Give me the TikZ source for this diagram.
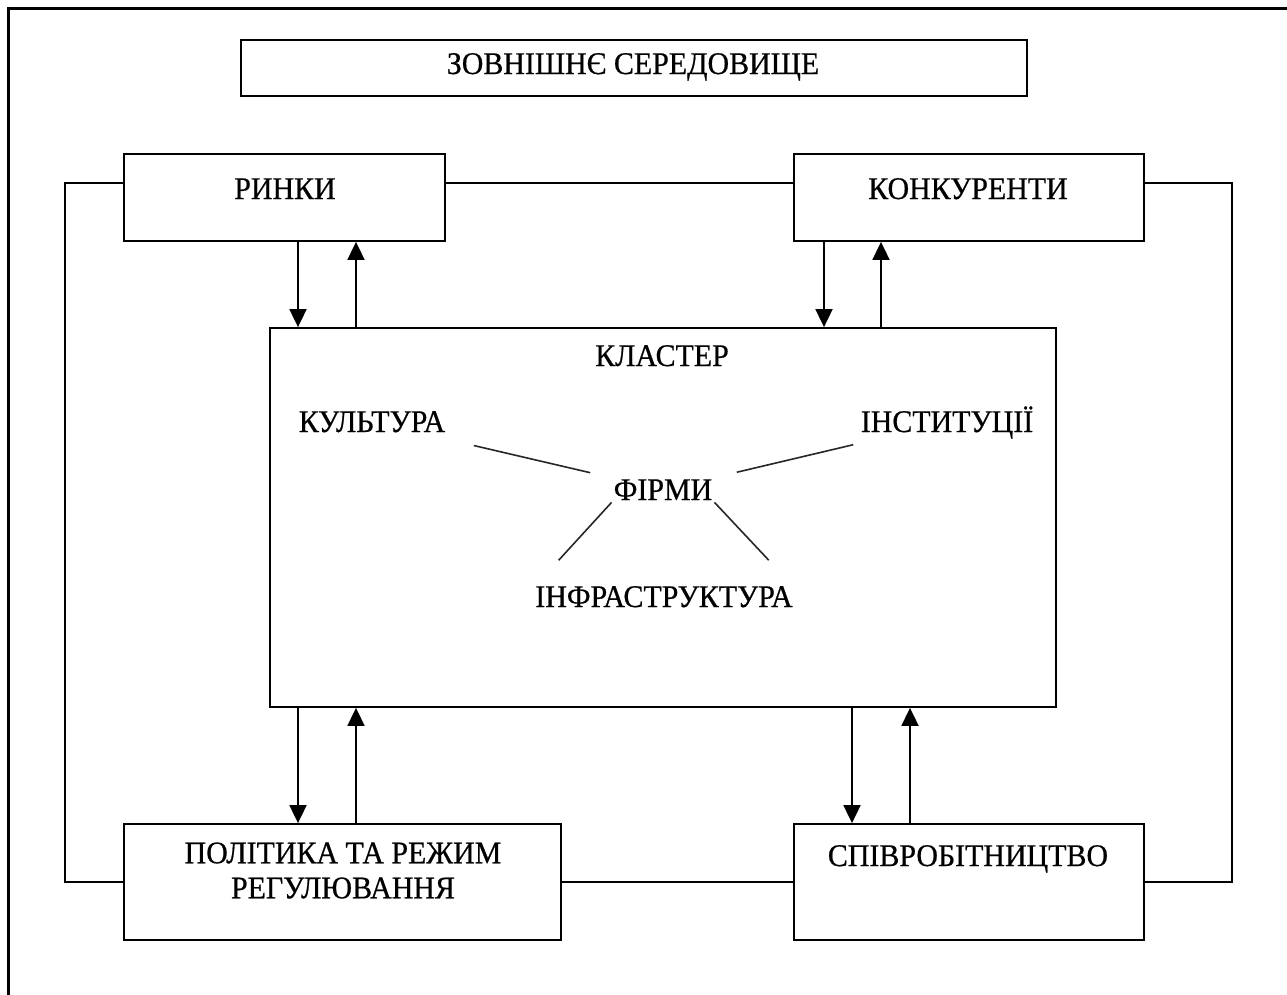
\documentclass[tikz,border=0pt]{standalone}
\usepackage{fontspec}
\setmainfont{Liberation Serif}[FakeStretch=0.95,FakeBold=0.6]
\usetikzlibrary{arrows.meta,calc}

\begin{document}
\begin{tikzpicture}[x=1pt,y=-1pt,
        box/.style={draw,line width=1.8pt,inner sep=0pt},
        txt/.style={inner sep=0pt,font=\fontsize{31.5}{35}\selectfont},
        arr/.style={line width=1.8pt,-{Triangle[width=17pt,length=18pt]}},
        link/.style={line width=1.6pt,black!85}]
    \useasboundingbox (0,0) rectangle (1287,994);
    \clip (0,0) rectangle (1287,994);
    \draw[line width=3pt] (8,8) rectangle (1300,1010);
    \node[box,minimum width=786,minimum height=56] (env) at (634,68) {};
    \node[box,minimum width=321,minimum height=87] (rynky) at (284.5,197.5) {};
    \node[box,minimum width=350,minimum height=87] (konk) at (969,197.5) {};
    \node[box,minimum width=786,minimum height=379] (klaster) at (663,517.5) {};
    \node[box,minimum width=437,minimum height=116] (polit) at (342.5,882) {};
    \node[box,minimum width=350,minimum height=116] (spiv) at (969,882) {};
    \node[txt,anchor=base] (envt) at (633,74) {ЗОВНІШНЄ СЕРЕДОВИЩЕ};
    \node[txt,anchor=base] (rynkyt) at (285,199) {РИНКИ};
    \node[txt,anchor=base] (konkt) at (968,199) {КОНКУРЕНТИ};
    \node[txt,anchor=base] (klastert) at (662,366) {КЛАСТЕР};
    \node[txt,anchor=base] (kult) at (372,432) {КУЛЬТУРА};
    \node[txt,anchor=base] (inst) at (947,432) {ІНСТИТУЦІЇ};
    \node[txt,anchor=base] (firm) at (663,500) {ФІРМИ};
    \node[txt,anchor=base] (infra) at (664,607) {ІНФРАСТРУКТУРА};
    \node[txt,align=center] (politt) at (343,870.5) {ПОЛІТИКА ТА РЕЖИМ\\РЕГУЛЮВАННЯ};
    \node[txt,anchor=base] (spivt) at (968,866) {СПІВРОБІТНИЦТВО};
    \draw[line width=1.8pt] ([yshift=14.5pt]rynky.east) -- ([yshift=14.5pt]konk.west);
    \draw[line width=1.8pt] ([yshift=14.5pt]rynky.west) -- ++(-58,0) |- (polit.west);
    \draw[line width=1.8pt] ([yshift=14.5pt]konk.east) -- ++(87,0) |- (spiv.east);
    \draw[line width=1.8pt] (polit.east) -- (spiv.west);
    \foreach \x/\a/\b in {298/rynky.south/klaster.north,356/klaster.north/rynky.south,
            824/konk.south/klaster.north,881/klaster.north/konk.south,
            298/klaster.south/polit.north,356/polit.north/klaster.south,
            852/klaster.south/spiv.north,910/spiv.north/klaster.south}{
        \draw[arr] (\x,0 |- \a) -- (\x,0 |- \b);
    }
    \draw[link] ($(kult)!0.35!(firm)$) -- ($(kult)!0.75!(firm)$);
    \draw[link] ($(inst)!0.33!(firm)$) -- ($(inst)!0.74!(firm)$);
    \draw[link,shorten <=3pt] (firm.south west) -- ($(firm.south west)!0.7!(infra.north west)$);
    \draw[link,shorten <=3pt] (firm.south east) -- ($(firm.south east)!0.7!(infra.north east)$);
\end{tikzpicture}
\end{document}
